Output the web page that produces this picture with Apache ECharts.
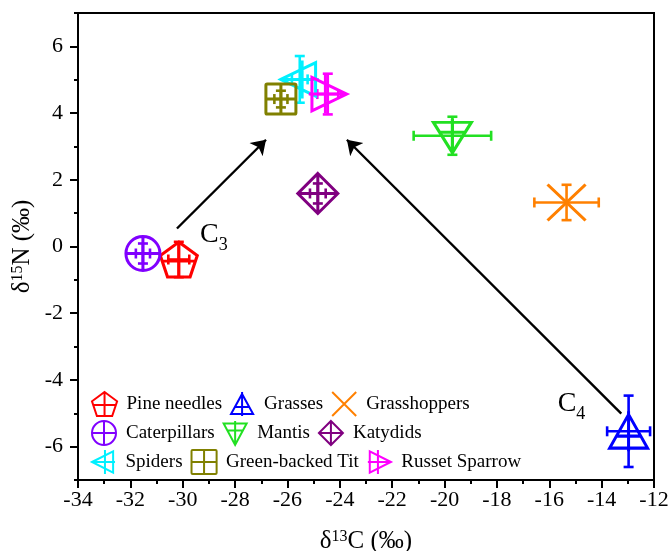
<!DOCTYPE html>
<html><head><meta charset="utf-8">
<script src="https://cdn.jsdelivr.net/npm/echarts@6/dist/echarts.min.js"></script>
<style>html,body{margin:0;padding:0;background:#fff}#c{width:670px;height:551px}</style>
</head><body><div id="c"></div>
<script>
const species = ['Pine needles','Grasses','Grasshoppers','Caterpillars','Mantis','Katydids','Spiders','Green-backed Tit','Russet Sparrow'];
const d13C = [-30.15,-12.97,-15.34,-31.52,-19.7,-24.84,-25.53,-26.25,-24.46];
const d15N = [-0.39,-5.54,1.32,-0.21,3.32,1.59,5.01,4.42,4.57];
const errC = [0.4,0.82,1.23,0.27,1.48,0.3,0.3,0.25,0.4];
const errN = [0.53,1.07,0.53,0.3,0.57,0.3,0.7,0.25,0.61];
const colors = ['#ff0000','#0000ff','#ff8000','#8000ff','#22e022','#800080','#00f0ff','#808000','#ff00ff'];
const xTicks = [-34,-12,2];
const yTicks = [-6,6,2];
const arrowStart = [[-30.22,0.54],[-13.25,-5.01]];
const arrowEnd = [[-26.82,3.2],[-23.73,3.2]];
const pathLabels = [['3',-28.81,0.39],['4',-15.15,-4.67]];

const symbols = [
 'path://M50,4L96,38L78,92L22,92L4,38ZM50,4L50,92M8,52L92,52',
 'path://M50,8L96,92L4,92ZM50,0L50,100M22,62L78,62',
 'path://M4,4L96,96M96,4L4,96',
 'path://M50,4A46,46,0,1,1,49.99,4ZM50,4L50,96M4,50L96,50',
 'path://M4,10L96,10L50,96ZM50,0L50,96M20,38L80,38',
 'path://M50,4L96,50L50,96L4,50ZM50,4L50,96M4,50L96,50',
 'path://M4,50L92,6L92,94ZM4,50L100,50M58,0L58,100',
 'path://M8,6L92,6Q96,6,96,10L96,90Q96,94,92,94L8,94Q4,94,4,90L4,10Q4,6,8,6ZM50,6L50,94M4,50L96,50',
 'path://M96,50L8,6L8,94ZM0,50L96,50M42,0L42,100'
];
const sizes = [[37,35],[38,40],[38,36],[34,34],[38,34],[40,40],[38,38],[30,30],[38,38]];
const font = 'Liberation Serif';

const series = [];
series.push({
  type:'custom', name:'err', xAxisIndex:0, yAxisIndex:0, z:3,
  data: species.map((s,i)=>[d13C[i],d15N[i],errC[i],errN[i],i]),
  encode:{x:0,y:1},
  renderItem(params, api){
    const x=api.value(0), y=api.value(1), ex=api.value(2), ey=api.value(3), ci=api.value(4);
    const l=api.coord([x-ex,y]), r=api.coord([x+ex,y]), t=api.coord([x,y+ey]), b=api.coord([x,y-ey]);
    const cap=5;
    const style={stroke:colors[ci], lineWidth:2.6};
    return {type:'group', children:[
      {type:'line', shape:{x1:l[0],y1:l[1],x2:r[0],y2:r[1]}, style},
      {type:'line', shape:{x1:l[0],y1:l[1]-cap,x2:l[0],y2:l[1]+cap}, style},
      {type:'line', shape:{x1:r[0],y1:r[1]-cap,x2:r[0],y2:r[1]+cap}, style},
      {type:'line', shape:{x1:t[0],y1:t[1],x2:b[0],y2:b[1]}, style},
      {type:'line', shape:{x1:t[0]-cap,y1:t[1],x2:t[0]+cap,y2:t[1]}, style},
      {type:'line', shape:{x1:b[0]-cap,y1:b[1],x2:b[0]+cap,y2:b[1]}, style}
    ]};
  }
});
species.forEach((s,i)=>{
  series.push({
    type:'scatter', name:s, xAxisIndex:0, yAxisIndex:0, z:4,
    symbol:symbols[i], symbolSize:sizes[i],
    itemStyle:{color:'rgba(255,255,255,0)', borderColor:colors[i], borderWidth:3, opacity:1},
    data:[[d13C[i],d15N[i]]]
  });
});
series.push({
  type:'lines', coordinateSystem:'cartesian2d', xAxisIndex:0, yAxisIndex:0, z:5,
  symbol:['none','arrow'], symbolSize:[1,14],
  lineStyle:{color:'#000', width:2.4, opacity:1},
  data: arrowStart.map((p,i)=>({coords:[p,arrowEnd[i]]}))
});
series.push({
  type:'scatter', xAxisIndex:0, yAxisIndex:0, symbolSize:0, z:6, silent:true,
  itemStyle:{opacity:1},
  data: pathLabels.map(p=>({value:[p[1],p[2]], sub:p[0]})),
  label:{show:true, position:'inside', color:'#000', opacity:1,
    formatter:(p)=>'{c|C}{s|'+p.data.sub+'}',
    rich:{c:{fontFamily:font,fontSize:28,color:'#000',verticalAlign:'bottom',lineHeight:30},
          s:{fontFamily:font,fontSize:18,color:'#000',verticalAlign:'bottom',lineHeight:22,padding:[0,0,-6,0]}}}
});

const legendBase = {
  orient:'horizontal', itemWidth:26, itemHeight:24, itemGap:8,
  textStyle:{fontFamily:font, fontSize:19, color:'#000', padding:[0,0,0,4]},
  selectedMode:false
};
const legends = [0,1,2].map(r=>Object.assign({}, legendBase, {
  left:86, top:386 + r*29,
  data: species.slice(r*3, r*3+3)
}));
const nameRich = {a:{fontFamily:font,fontSize:25,color:'#000',verticalAlign:'bottom',lineHeight:28},
                  s:{fontFamily:font,fontSize:16,color:'#000',verticalAlign:'bottom',lineHeight:28,padding:[0,0,9,0]}};

const option = {
  animation:false,
  backgroundColor:'#fff',
  legend: legends,
  grid:[
    {left:78,right:16,top:13,bottom:71,outerBoundsMode:'none',containLabel:false,show:true,borderColor:'#000',borderWidth:2,backgroundColor:'rgba(0,0,0,0)'},
    {left:78,right:16,top:46.36,bottom:104.36,outerBoundsMode:'none',containLabel:false,show:false}
  ],
  xAxis:[
    {gridIndex:0,type:'value',min:xTicks[0],max:xTicks[1],interval:xTicks[2],
     axisLine:{onZero:false,lineStyle:{color:'#000',width:2}},
     axisTick:{show:true,length:8,lineStyle:{color:'#000',width:2}},
     minorTick:{show:true,splitNumber:2,length:4,lineStyle:{color:'#000',width:2}},
     splitLine:{show:false},
     axisLabel:{fontFamily:font,fontSize:22,color:'#000',margin:9},
     name:'{a|δ}{s|13}{a|C (‰)}', nameLocation:'middle', nameGap:46,
     nameTextStyle:{rich:nameRich}},
    {gridIndex:1,type:'value',min:xTicks[0],max:xTicks[1],show:false,axisLine:{onZero:false}}
  ],
  yAxis:[
    {gridIndex:0,type:'value',min:-7,max:7,interval:1,
     axisLine:{onZero:false,lineStyle:{color:'#000',width:2}},
     axisTick:{show:true,length:4,lineStyle:{color:'#000',width:2}},
     splitLine:{show:false}, axisLabel:{show:false},
     name:'{a|δ}{s|15}{a|N (‰)}', nameLocation:'middle', nameGap:43,
     nameTextStyle:{rich:nameRich}},
    {gridIndex:1,type:'value',min:yTicks[0],max:yTicks[1],interval:yTicks[2],
     axisLine:{show:false,onZero:false},
     axisTick:{show:true,length:8,lineStyle:{color:'#000',width:2}},
     splitLine:{show:false},
     axisLabel:{fontFamily:font,fontSize:22,color:'#000',margin:15}}
  ],
  series
};
const chart = echarts.init(document.getElementById('c'), null, {renderer:'canvas'});
chart.setOption(option);
</script></body></html>
